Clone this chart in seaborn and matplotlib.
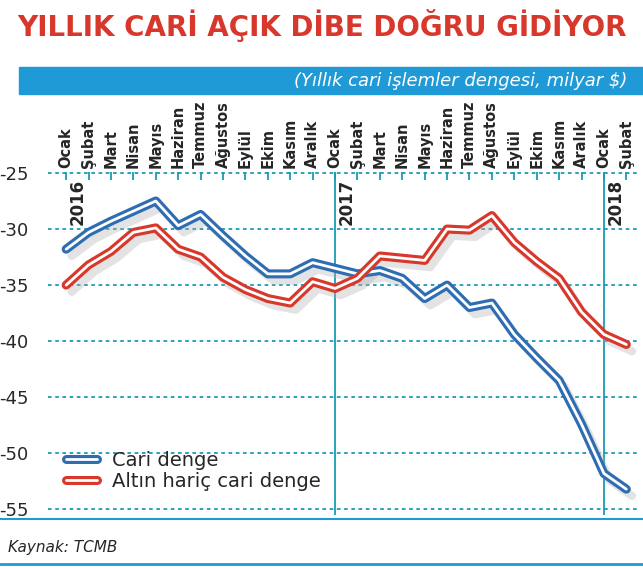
import matplotlib
matplotlib.use("Agg")
import matplotlib.pyplot as plt
import matplotlib.patheffects as pe
import seaborn as sns
import pandas as pd

months = ["Ocak", "Şubat", "Mart", "Nisan", "Mayıs", "Haziran", "Temmuz", "Ağustos",
          "Eylül", "Ekim", "Kasım", "Aralık"] * 2 + ["Ocak", "Şubat"]
cari = [-31.8, -30.3, -29.3, -28.4, -27.5, -29.7, -28.7, -30.6, -32.4, -34.0, -34.0, -33.0,
        -33.5, -34.0, -33.7, -34.4, -36.2, -35.0, -37.0, -36.6, -39.4, -41.5, -43.5, -47.4,
        -51.8, -53.2]
altin_haric = [-35.0, -33.2, -32.0, -30.3, -29.9, -31.8, -32.5, -34.3, -35.4, -36.2, -36.6, -34.7,
               -35.3, -34.4, -32.4, -32.6, -32.8, -30.0, -30.1, -28.8, -31.2, -32.9, -34.4, -37.4,
               -39.4, -40.3]
years = ["2016", "2017", "2018"]
year_starts = [0, 12, 24]
yticks = [-25, -30, -35, -40, -45, -50, -55]

df = pd.DataFrame({"x": range(len(months)), "Cari denge": cari,
                   "Altın hariç cari denge": altin_haric})
long = df.melt(id_vars="x", var_name="seri", value_name="deger")

sns.set_style("white")
plt.rcParams["font.family"] = ["DejaVu Sans"]
grid_c = "#1a9bb5"

fig = plt.figure(figsize=(6.43, 5.69), dpi=100)
ax = fig.add_axes([0.075, 0.095, 0.92, 0.603])

# shadow
for col in ["Cari denge", "Altın hariç cari denge"]:
    ax.plot(df["x"] + 0.25, df[col] - 0.6, color="#b0b0b0", lw=6, alpha=0.35, zorder=2)

colors = {"Cari denge": "#2f6db3", "Altın hariç cari denge": "#d8382c"}
sns.lineplot(data=long, x="x", y="deger", hue="seri", palette=colors, lw=2,
             ax=ax, zorder=4)
for line in ax.get_lines()[2:]:
    c = line.get_color()
    line.set_color("white")
    line.set_path_effects([pe.Stroke(linewidth=6.5, foreground=c), pe.Normal()])

for y in yticks:
    ax.axhline(y, color=grid_c, ls=(0, (2, 2)), lw=1.3, zorder=1)
for i in year_starts[1:]:
    ax.axvline(i, color=grid_c, lw=1.3, zorder=1)
for i, yr in zip(year_starts, years):
    ax.text(i + 0.1, -25.5, yr, rotation=90, va="top", ha="left", fontsize=12,
            fontweight="bold", family="DejaVu Sans Condensed" if False else "DejaVu Sans")

ax.set_xlim(-0.8, 25.6)
ax.set_ylim(-55.5, -24.9)
ax.set_yticks(yticks)
ax.set_yticklabels([str(v) for v in yticks], fontsize=13)
ax.xaxis.tick_top()
ax.set_xticks(range(len(months)))
ax.set_xticklabels(months, rotation=90, fontsize=10.5, fontweight="bold")
ax.tick_params(axis="x", direction="in", length=6, color=grid_c, width=1.3, pad=3)
ax.tick_params(axis="y", length=0, pad=14)
for s in ax.spines.values():
    s.set_visible(False)
ax.set_xlabel("")
ax.set_ylabel("")

handles, labels = ax.get_legend_handles_labels()
ax.legend(handles, labels, loc="lower left", bbox_to_anchor=(0.0, 0.02), frameon=False,
          handlelength=1.6, labelspacing=0.1, prop={"family": "DejaVu Sans", "size": 14})

fig.text(0.5, 0.955, "YILLIK CARİ AÇIK DİBE DOĞRU GİDİYOR", ha="center", va="center",
         color="#d8382c", fontsize=20, fontweight="bold")
fig.patches.append(plt.Rectangle((0.03, 0.835), 0.97, 0.047, transform=fig.transFigure,
                                 color="#1f9ad6"))
fig.text(0.975, 0.858, "(Yıllık cari işlemler dengesi, milyar $)", ha="right", va="center",
         color="white", fontsize=13, style="italic")
fig.add_artist(plt.Line2D([0.0, 1.0], [0.088, 0.088], color="#1f9ad6", lw=1.5))
fig.add_artist(plt.Line2D([0.0, 1.0], [0.008, 0.008], color="#1f9ad6", lw=2))
fig.text(0.012, 0.037, "Kaynak: TCMB", ha="left", va="center", fontsize=11, style="italic")

fig.savefig("out.png", dpi=100)
